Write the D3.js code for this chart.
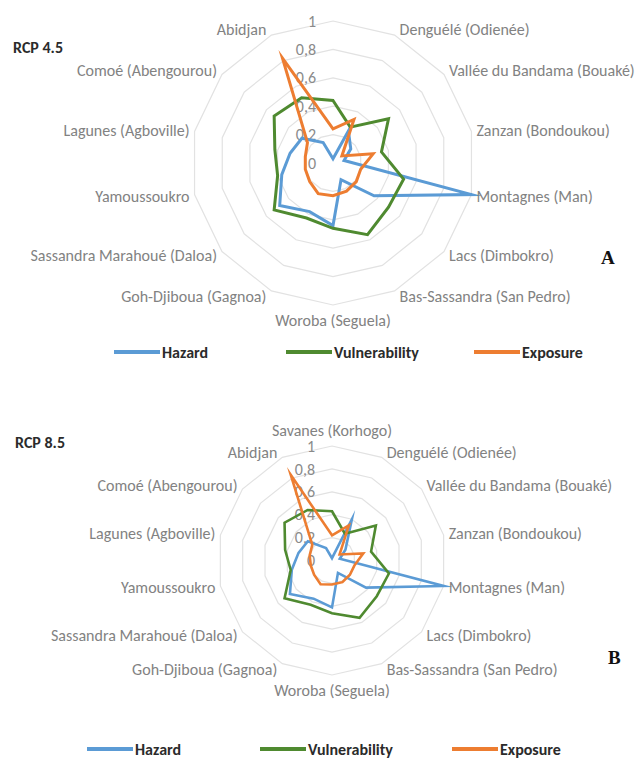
<!DOCTYPE html>
<html>
<head>
<meta charset="utf-8">
<script src="https://cdn.jsdelivr.net/npm/d3@7"></script>
<style>
  html, body { margin: 0; padding: 0; background: #ffffff; }
  svg { display: block; }
</style>
</head>
<body>
<svg id="chart" width="638" height="759"></svg>
<script>
// ---------------- data ----------------
const categories = [
  "Savanes (Korhogo)",
  "Denguélé (Odienée)",
  "Vallée du Bandama (Bouaké)",
  "Zanzan (Bondoukou)",
  "Montagnes (Man)",
  "Lacs (Dimbokro)",
  "Bas-Sassandra (San Pedro)",
  "Woroba (Seguela)",
  "Goh-Djiboua (Gagnoa)",
  "Sassandra Marahoué (Daloa)",
  "Yamoussoukro",
  "Lagunes (Agboville)",
  "Comoé (Abengourou)",
  "Abidjan"
];
const tickValues = [0, 0.2, 0.4, 0.6, 0.8, 1];
const tickLabels = ["0", "0,2", "0,4", "0,6", "0,8", "1"];
const seriesNames = ["Hazard", "Vulnerability", "Exposure"];
const seriesColors = ["#5b9bd5", "#4f8a30", "#ed7d31"];

// RCP 4.5
const hazard45        = [0.03, 0.25, 0.16, 0.08, 1.00, 0.37, 0.13, 0.44, 0.38, 0.48, 0.37, 0.31, 0.28, 0.16];
const vulnerability45 = [0.44, 0.28, 0.50, 0.35, 0.51, 0.50, 0.56, 0.46, 0.43, 0.53, 0.40, 0.42, 0.53, 0.51];
const exposure45      = [0.24, 0.34, 0.08, 0.29, 0.20, 0.21, 0.22, 0.23, 0.24, 0.21, 0.20, 0.20, 0.23, 0.82];
// RCP 8.5
const hazard85        = [0.02, 0.40, 0.15, 0.07, 1.00, 0.38, 0.12, 0.41, 0.37, 0.47, 0.36, 0.30, 0.27, 0.12];
const vulnerability85 = [0.43, 0.26, 0.49, 0.35, 0.51, 0.50, 0.555, 0.46, 0.43, 0.53, 0.37, 0.42, 0.53, 0.49];
const exposure85      = [0.22, 0.34, 0.085, 0.28, 0.20, 0.20, 0.21, 0.21, 0.23, 0.20, 0.19, 0.20, 0.22, 0.83];

// ---------------- layout ----------------
const panels = [
  {
    title: "RCP 4.5", letter: "A", series: [hazard45, vulnerability45, exposure45],
    cx: 333, cy: 163, R: 142, titleX: 13, titleY: 47, showTop: false,
    letterX: 601, letterY: 257, legendY: 352, strokeW: 3,
    legendX: [114, 286, 474], legendLen: 46
  },
  {
    title: "RCP 8.5", letter: "B", series: [hazard85, vulnerability85, exposure85],
    cx: 332, cy: 560.5, R: 114.5, titleX: 15, titleY: 442, showTop: true,
    letterX: 608, letterY: 657, legendY: 749, strokeW: 2.6,
    legendX: [87, 260, 452], legendLen: 46
  }
];

const svg = d3.select("#chart");
const N = categories.length;
const angle = i => i * 2 * Math.PI / N;
const labelFont = "Carlito, Lato, sans-serif";

panels.forEach(p => {
  const g = svg.append("g");
  const r = d3.scaleLinear().domain([0, 1]).range([0, p.R]);
  const radial = d3.lineRadial()
    .angle((d, i) => angle(i))
    .radius(d => r(d))
    .curve(d3.curveLinearClosed);

  const plot = g.append("g").attr("transform", `translate(${p.cx},${p.cy})`);

  // grid rings
  plot.selectAll("path.ring")
    .data(tickValues.filter(v => v > 0))
    .join("path")
    .attr("class", "ring")
    .attr("d", v => radial(categories.map(() => v)))
    .attr("fill", "none")
    .attr("stroke", "#e2e2e2")
    .attr("stroke-width", 1.2);

  // value tick labels
  plot.selectAll("text.tick")
    .data(tickValues)
    .join("text")
    .attr("class", "tick")
    .attr("x", -17)
    .attr("y", v => -r(v))
    .attr("dy", "0.35em")
    .attr("text-anchor", "end")
    .attr("font-family", labelFont)
    .attr("font-size", 16)
    .attr("fill", "#8a8a8a")
    .text((v, i) => tickLabels[i]);

  // series
  p.series.forEach((vals, si) => {
    plot.append("path")
      .attr("d", radial(vals))
      .attr("fill", "none")
      .attr("stroke", seriesColors[si])
      .attr("stroke-width", p.strokeW)
      .attr("stroke-linejoin", "miter")
      .attr("stroke-miterlimit", 10);
  });

  // category labels
  categories.forEach((c, i) => {
    if (i === 0 && !p.showTop) return;
    const a = angle(i);
    const s = Math.sin(a), co = Math.cos(a);
    const vx = r(1) * s, vy = -r(1) * co;
    let anchor = "middle", x = vx, y = vy;
    if (Math.abs(s) < 0.05) {
      y = vy + (co > 0 ? -16 : 15);
    } else {
      anchor = s > 0 ? "start" : "end";
      x = vx + (s > 0 ? 5 : -5);
      y = vy - co * 6;
    }
    plot.append("text")
      .attr("x", x)
      .attr("y", y)
      .attr("dy", "0.35em")
      .attr("text-anchor", anchor)
      .attr("font-family", labelFont)
      .attr("font-size", 16)
      .attr("fill", "#828282")
      .text(c);
  });

  // panel title
  g.append("text")
    .attr("x", p.titleX)
    .attr("y", p.titleY)
    .attr("dy", "0.35em")
    .attr("font-family", labelFont)
    .attr("font-weight", "bold")
    .attr("font-size", 16)
    .attr("fill", "#2b2b2b")
    .text(p.title);

  // panel letter
  g.append("text")
    .attr("x", p.letterX)
    .attr("y", p.letterY)
    .attr("dy", "0.35em")
    .attr("font-family", "'Liberation Serif', 'DejaVu Serif', serif")
    .attr("font-weight", "bold")
    .attr("font-size", 19)
    .attr("fill", "#111111")
    .text(p.letter);

  // legend
  seriesNames.forEach((name, si) => {
    const lx = p.legendX[si];
    g.append("line")
      .attr("x1", lx).attr("x2", lx + p.legendLen)
      .attr("y1", p.legendY).attr("y2", p.legendY)
      .attr("stroke", seriesColors[si])
      .attr("stroke-width", 4);
    g.append("text")
      .attr("x", lx + p.legendLen + 2)
      .attr("y", p.legendY)
      .attr("dy", "0.35em")
      .attr("font-family", labelFont)
      .attr("font-weight", "bold")
      .attr("font-size", 16)
      .attr("fill", "#2b2b2b")
      .text(name);
  });
});
</script>
</body>
</html>
